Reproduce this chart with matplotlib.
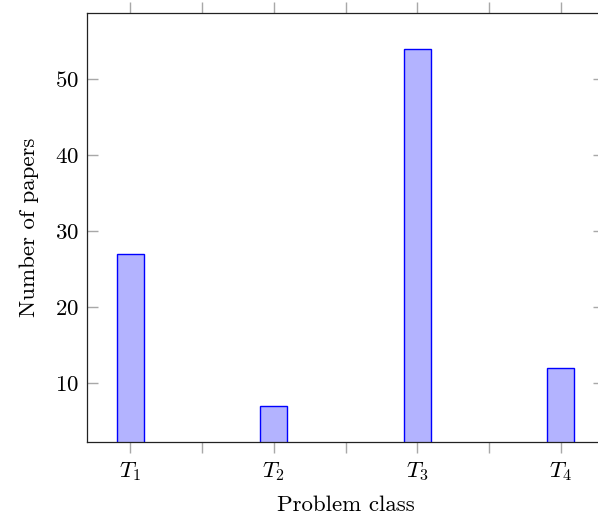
import matplotlib.pyplot as plt

plt.rcParams["font.family"] = "cmr10"
plt.rcParams["mathtext.fontset"] = "cm"
plt.rcParams["axes.formatter.use_mathtext"] = True

classes = [1, 2, 3, 4]
class_labels = [r"$T_1$", r"$T_2$", r"$T_3$", r"$T_4$"]
papers = [27, 7, 54, 12]

fig = plt.figure(figsize=(5.98, 5.22), dpi=100)
ax = fig.add_axes([87 / 598, 80 / 522, 517 / 598, 429 / 522])

ax.bar(classes, papers, width=0.1875, color="#b3b3ff", edgecolor="#0000ff", linewidth=1.0)

ax.set_xlim(0.7, 4.3)
ax.set_ylim(2.3, 58.7)

ax.set_xticks(classes)
ax.set_xticklabels(class_labels)
ax.set_xticks([1.5, 2.5, 3.5], minor=True)
ax.set_yticks([10, 20, 30, 40, 50])

ax.tick_params(axis="x", which="both", direction="out", top=True, length=8,
               width=1, color="#a8a8a8", labelsize=16.5, pad=5)
ax.tick_params(axis="y", which="both", direction="in", right=True, length=8,
               width=1, color="#a8a8a8", labelsize=16.5, pad=6)

for s in ax.spines.values():
    s.set_linewidth(0.9)
    s.set_color("#222222")

ax.set_xlabel("Problem class", fontsize=16.5, labelpad=9)
ax.set_ylabel("Number of papers", fontsize=16.5, labelpad=11)

fig.savefig("out.png", dpi=100)
